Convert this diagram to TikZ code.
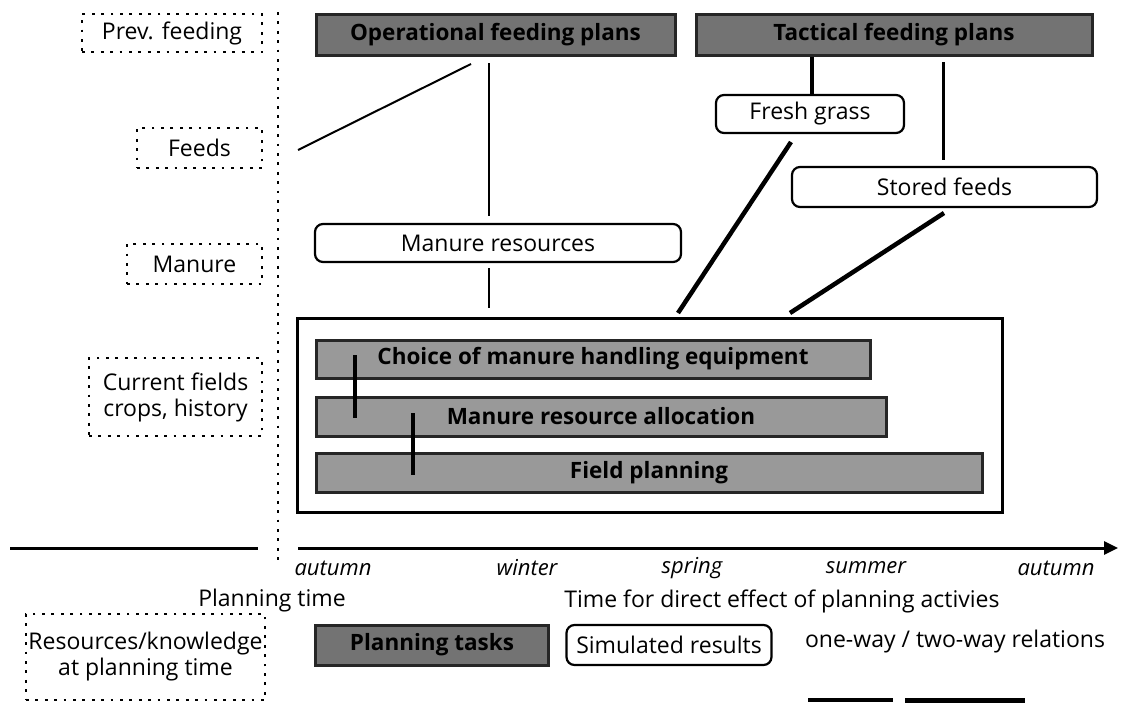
\documentclass[tikz,border=0pt]{standalone}
\usepackage{fontspec}
\setmainfont{Open Sans}
\usetikzlibrary{arrows.meta}
\begin{document}
\begin{tikzpicture}[x=1pt,y=-1pt,
  every node/.style={font=\fontsize{23}{26}\selectfont, inner sep=0pt},
  dots/.style={line width=2.8pt, dash pattern=on 2.8pt off 6.6pt},
  srcbox/.style={draw, dots, align=center},
  taskbox/.style={draw=black!85, line width=3pt, fill=black!40, font=\fontsize{22.5}{26}\selectfont\bfseries},
  darktask/.style={taskbox, fill=black!55},
  simbox/.style={draw, line width=2.2pt, rounded corners=8pt, fill=white},
  thinlink/.style={line width=2pt},
  thicklink/.style={line width=4.5pt},
  season/.style={font=\fontsize{22}{26}\selectfont\itshape}
]
\useasboundingbox (0,0) rectangle (1126,702);
% left source boxes
\node[srcbox, minimum width=180, minimum height=38] (prev) at (172,33) {Prev. feeding};
\node[srcbox, minimum width=125, minimum height=40] (feeds) at (199.5,148) {Feeds};
\node[srcbox, minimum width=135, minimum height=40] (manure) at (194.5,264) {Manure};
\node[srcbox, minimum width=173, minimum height=78] (curr) at (175.5,397) {Current fields\\crops, history};
\node[srcbox, minimum width=239, minimum height=86] (res) at (145.5,657) {Resources/knowledge\\at planning time};
% dotted divider
\coordinate (dTop) at (278,12);
\coordinate (dBot) at (278,566);
\draw[dots] (dTop) -- (dBot);
% top planning boxes
\node[darktask, minimum width=359, minimum height=41] (op) at (495.5,34.5) {Operational feeding plans};
\node[darktask, minimum width=396, minimum height=41] (tac) at (894,34.5) {Tactical feeding plans};
% simulated results
\node[simbox, minimum width=188, minimum height=38] (fresh) at (810,114) {Fresh grass};
\node[simbox, minimum width=305, minimum height=40] (stored) at (944.5,187) {Stored feeds};
\node[simbox, minimum width=366, minimum height=38] (manres) at (498,243) {Manure resources};
% big frame
\node[draw, line width=3pt, minimum width=705, minimum height=194] (frame) at (649.5,415) {};
\node[taskbox, minimum width=554, minimum height=38] (choice) at (593,359) {Choice of manure handling equipment};
\node[taskbox, minimum width=570, minimum height=39] (alloc) at (601,416.5) {Manure resource allocation};
\node[taskbox, minimum width=666, minimum height=39] (field) at (649,472.5) {Field planning};
% connectors
\coordinate (fA) at (298,150);
\coordinate (fB) at (471,64);
\draw[thinlink] (fA) -- (fB);
\coordinate (oA) at (489,63);
\coordinate (oB) at (489,216);
\draw[thinlink] (oA) -- (oB);
\coordinate (mA) at (489,268);
\coordinate (mB) at (489,308);
\draw[thinlink] (mA) -- (mB);
\draw[thicklink] (tac.south -| fresh.north) ++(2,0) coordinate (tA) -- (tA |- fresh.north);
\coordinate (sA) at (943,62);
\coordinate (sB) at (943,160);
\draw[line width=3pt] (sA) -- (sB);
\coordinate (gA) at (791,142);
\coordinate (gB) at (678,313);
\draw[thicklink] (gA) -- (gB);
\coordinate (hA) at (944,213);
\coordinate (hB) at (790,313);
\draw[thicklink] (hA) -- (hB);
\coordinate (cA) at (355,355);
\coordinate (cB) at (355,418);
\draw[thicklink] (cA) -- (cB);
\coordinate (aA) at (413,413);
\coordinate (aB) at (413,475);
\draw[thicklink] (aA) -- (aB);
% time axis
\coordinate (ax0) at (10,548);
\coordinate (ax1) at (258,548);
\coordinate (ax2) at (298,548);
\coordinate (ax3) at (1118,548);
\draw[line width=3pt] (ax0) -- (ax1);
\draw[line width=3pt, -{Triangle[length=14pt,width=13pt]}] (ax2) -- (ax3);
\node[season] (s1) at (333,568) {autumn};
\node[season] (s2) at (527,568) {winter};
\node[season] (s3) at (692,568) {spring};
\node[season] (s4) at (866,568) {summer};
\node[season] (s5) at (1056,568) {autumn};
\node (pt) at (272,601) {Planning time};
\node (td) at (782,601) {Time for direct effect of planning activies};
% legend
\node[darktask, minimum width=233, minimum height=40] (lt) at (432,645) {Planning tasks};
\node[simbox, minimum width=205, minimum height=40] (ls) at (669,645) {Simulated results};
\node (lr) at (955,642) {one-way / two-way relations};
\coordinate (l1a) at (808,700);
\coordinate (l1b) at (893,700);
\coordinate (l2a) at (905,700);
\coordinate (l2b) at (1025,700);
\draw[line width=3.5pt] (l1a) -- (l1b);
\draw[line width=5pt] (l2a) -- (l2b);
\end{tikzpicture}
\end{document}
